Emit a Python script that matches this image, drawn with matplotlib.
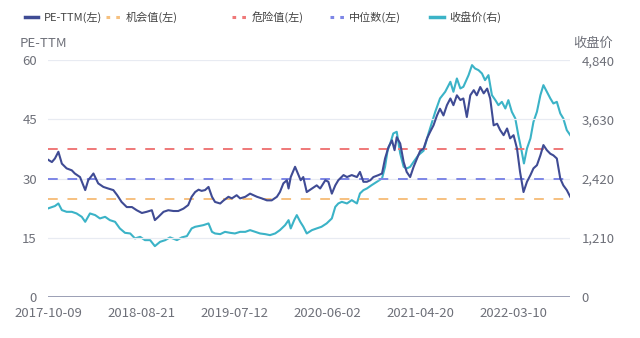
import numpy as np
import matplotlib
matplotlib.use("Agg")
import matplotlib.pyplot as plt
from matplotlib.lines import Line2D

plt.rcParams['font.family'] = ['Noto Sans CJK SC', 'DejaVu Sans']

# trading-day index of each sample, 1208 days in total
pe_idx = [0, 9, 16, 24, 32, 43, 55, 62, 74, 86, 93, 105, 116, 128, 139, 151, 160, 170,
          182, 194, 205, 217, 228, 240, 247, 255, 267, 278, 290, 301, 313, 324, 332, 340,
          348, 355, 363, 371, 379, 386, 398, 405, 417, 425, 436, 444, 456, 467, 475, 483,
          494, 506, 517, 529, 536, 544, 552, 556, 561, 571, 579, 584, 590, 598, 610, 621,
          629, 641, 648, 656, 664, 671, 683, 691, 702, 714, 721, 729, 737, 745, 752, 764,
          772, 779, 787, 795, 801, 806, 814, 822, 829, 837, 845, 853, 860, 868, 876, 883,
          891, 899, 906, 914, 922, 930, 937, 945, 953, 960, 968, 976, 984, 991, 999, 1007,
          1015, 1022, 1030, 1038, 1045, 1053, 1061, 1068, 1076, 1084, 1091, 1099, 1107,
          1115, 1122, 1130, 1138, 1145, 1153, 1161, 1168, 1176, 1184, 1191, 1199, 1207]
pe_val = [34.8, 34.2, 35.1, 36.8, 33.8, 32.6, 32.1, 31.3, 30.4, 27.1, 29.6, 31.3, 28.8,
          27.9, 27.5, 27.1, 25.8, 24.1, 22.8, 22.8, 22.0, 21.3, 21.6, 22.0, 19.5, 20.3,
          21.6, 22.0, 21.8, 21.8, 22.4, 23.3, 25.4, 26.6, 27.2, 26.9, 27.1, 27.9, 25.4,
          24.1, 23.7, 24.4, 25.4, 25.0, 25.8, 25.0, 25.4, 26.2, 25.8, 25.4, 25.0, 24.5,
          24.5, 25.4, 26.6, 28.8, 29.6, 27.5, 30.4, 33.0, 30.9, 29.6, 30.4, 26.6, 27.5,
          28.3, 27.5, 29.6, 29.2, 26.2, 28.3, 29.6, 30.9, 30.4, 30.9, 30.4, 31.7, 29.2,
          29.2, 29.6, 30.4, 30.9, 31.3, 35.1, 38.0, 39.7, 37.2, 40.5, 38.9, 34.2, 31.7,
          30.4, 33.0, 35.1, 37.0, 37.6, 40.2, 41.8, 43.5, 46.0, 47.7, 46.0, 48.6, 50.3,
          48.6, 51.1, 49.9, 50.3, 45.6, 51.1, 52.4, 51.1, 53.2, 51.6, 52.8, 50.3, 43.5,
          43.9, 42.3, 41.0, 42.7, 40.2, 41.0, 37.6, 31.7, 26.6, 29.2, 30.9, 32.6, 33.4,
          35.9, 38.5, 37.2, 36.3, 35.9, 35.1, 30.0, 28.3, 27.1, 25.4]

close_idx = [0, 16, 24, 32, 43, 55, 66, 78, 86, 97, 109, 120, 132, 143, 155, 166, 178,
             190, 201, 213, 224, 236, 247, 259, 271, 282, 298, 309, 321, 332, 340, 348,
             359, 371, 379, 386, 398, 409, 421, 432, 444, 456, 467, 479, 490, 502, 513,
             525, 536, 548, 556, 561, 569, 575, 583, 590, 598, 610, 621, 632, 644, 656,
             664, 671, 679, 691, 702, 714, 721, 729, 737, 748, 760, 772, 779, 785, 791,
             798, 806, 814, 822, 829, 837, 845, 856, 868, 880, 895, 906, 918, 930, 937,
             945, 953, 960, 972, 980, 987, 995, 1003, 1010, 1018, 1026, 1034, 1041, 1049,
             1057, 1064, 1072, 1080, 1087, 1095, 1100, 1107, 1115, 1122, 1130, 1138, 1145,
             1153, 1161, 1168, 1176, 1184, 1191, 1199, 1207]
close_val = [1811, 1860, 1913, 1777, 1742, 1742, 1709, 1640, 1538, 1709, 1675, 1607, 1640,
             1572, 1538, 1403, 1313, 1300, 1199, 1231, 1164, 1164, 1041, 1129, 1164, 1220,
             1164, 1219, 1246, 1403, 1436, 1450, 1470, 1505, 1333, 1300, 1286, 1333, 1313,
             1300, 1333, 1333, 1368, 1333, 1300, 1286, 1266, 1300, 1368, 1470, 1572, 1403,
             1572, 1675, 1538, 1440, 1300, 1368, 1403, 1436, 1505, 1607, 1844, 1913, 1946,
             1913, 1981, 1913, 2117, 2185, 2219, 2287, 2355, 2424, 2661, 3002, 3138, 3343,
             3377, 2934, 2661, 2627, 2661, 2763, 2900, 2990, 3360, 3785, 4058, 4194, 4398,
             4194, 4466, 4262, 4296, 4534, 4739, 4670, 4636, 4568, 4432, 4534, 4125, 4023,
             3921, 3989, 3853, 4023, 3785, 3649, 3308, 2967, 2730, 3036, 3241, 3580, 3785,
             4125, 4330, 4194, 4058, 3955, 3989, 3751, 3649, 3410, 3308]

n_days = 1208
chance_val = 24.8
danger_val = 37.6
median_val = 30.0

date_ticks = [0, 215, 430, 645, 860, 1075]
date_labels = ['2017-10-09', '2018-08-21', '2019-07-12', '2020-06-02', '2021-04-20', '2022-03-10']

left_ticks = [0, 15, 30, 45, 60]
right_ticks = [0, 1210, 2420, 3630, 4840]

c_pe = '#3f4b94'
c_close = '#3bb3c7'
c_chance = '#f6c07f'
c_danger = '#ef7878'
c_median = '#7d86e6'
c_text = '#6e7079'
c_grid = '#e8ebf2'

fig = plt.figure(figsize=(6.4, 3.38), dpi=100)
ax = fig.add_axes([0.075, 0.121, 0.816, 0.701])
ax2 = ax.twinx()

ax.set_xlim(0, n_days - 1)
ax.set_ylim(0, 60)
ax2.set_ylim(0, 4840)

for v in left_ticks[1:]:
    ax.axhline(v, color=c_grid, lw=0.9, zorder=0)
ax.axhline(0, color='#8a8fa8', lw=1.2, zorder=1)

ax.axhline(danger_val, color=c_danger, lw=1.4, dashes=(5, 5), zorder=2)
ax.axhline(median_val, color=c_median, lw=1.4, dashes=(5, 5), zorder=2)
ax.axhline(chance_val, color=c_chance, lw=1.4, dashes=(5, 5), zorder=2)

ax2.plot(close_idx, close_val, color=c_close, lw=1.5, zorder=3)
ax.set_zorder(ax2.get_zorder() + 1)
ax.patch.set_visible(False)
ax.plot(pe_idx, pe_val, color=c_pe, lw=1.5, zorder=4)

for a in (ax, ax2):
    for s in a.spines.values():
        s.set_visible(False)

ax.set_yticks(left_ticks)
ax.set_yticklabels([str(v) for v in left_ticks])
ax2.set_yticks(right_ticks)
ax2.set_yticklabels([f'{v:,}' for v in right_ticks])
ax.set_xticks(date_ticks)
ax.set_xticklabels(date_labels)

ax.tick_params(axis='y', length=0, pad=8, labelsize=9.5, labelcolor=c_text)
ax2.tick_params(axis='y', length=0, pad=8, labelsize=9.5, labelcolor=c_text)
ax.tick_params(axis='x', length=0, pad=7, labelsize=9.5, labelcolor=c_text)

fig.text(0.031, 0.872, 'PE-TTM', fontsize=9.5, color=c_text, ha='left', va='center')
fig.text(0.895, 0.872, '收盘价', fontsize=9.5, color=c_text, ha='left', va='center')

# legend row along the top
legend_items = [
    ('PE-TTM(左)', c_pe, 'solid', 0.039),
    ('机会值(左)', c_chance, 'dot', 0.166),
    ('危险值(左)', c_danger, 'dot', 0.363),
    ('中位数(左)', c_median, 'dot', 0.516),
    ('收盘价(右)', c_close, 'solid', 0.672),
]
ly = 1 - 17 / 338
for label, color, style, x0 in legend_items:
    xs = [x0, x0 + 0.021]
    if style == 'solid':
        fig.add_artist(Line2D(xs, [ly, ly], color=color, lw=2.5, transform=fig.transFigure))
    else:
        fig.add_artist(Line2D(xs, [ly, ly], color=color, lw=2.2, dashes=(1.2, 2.0),
                              transform=fig.transFigure))
    fig.text(x0 + 0.030, ly, label, fontsize=8, color='#444444', ha='left', va='center')

fig.savefig('out.png', dpi=100, facecolor='white')
